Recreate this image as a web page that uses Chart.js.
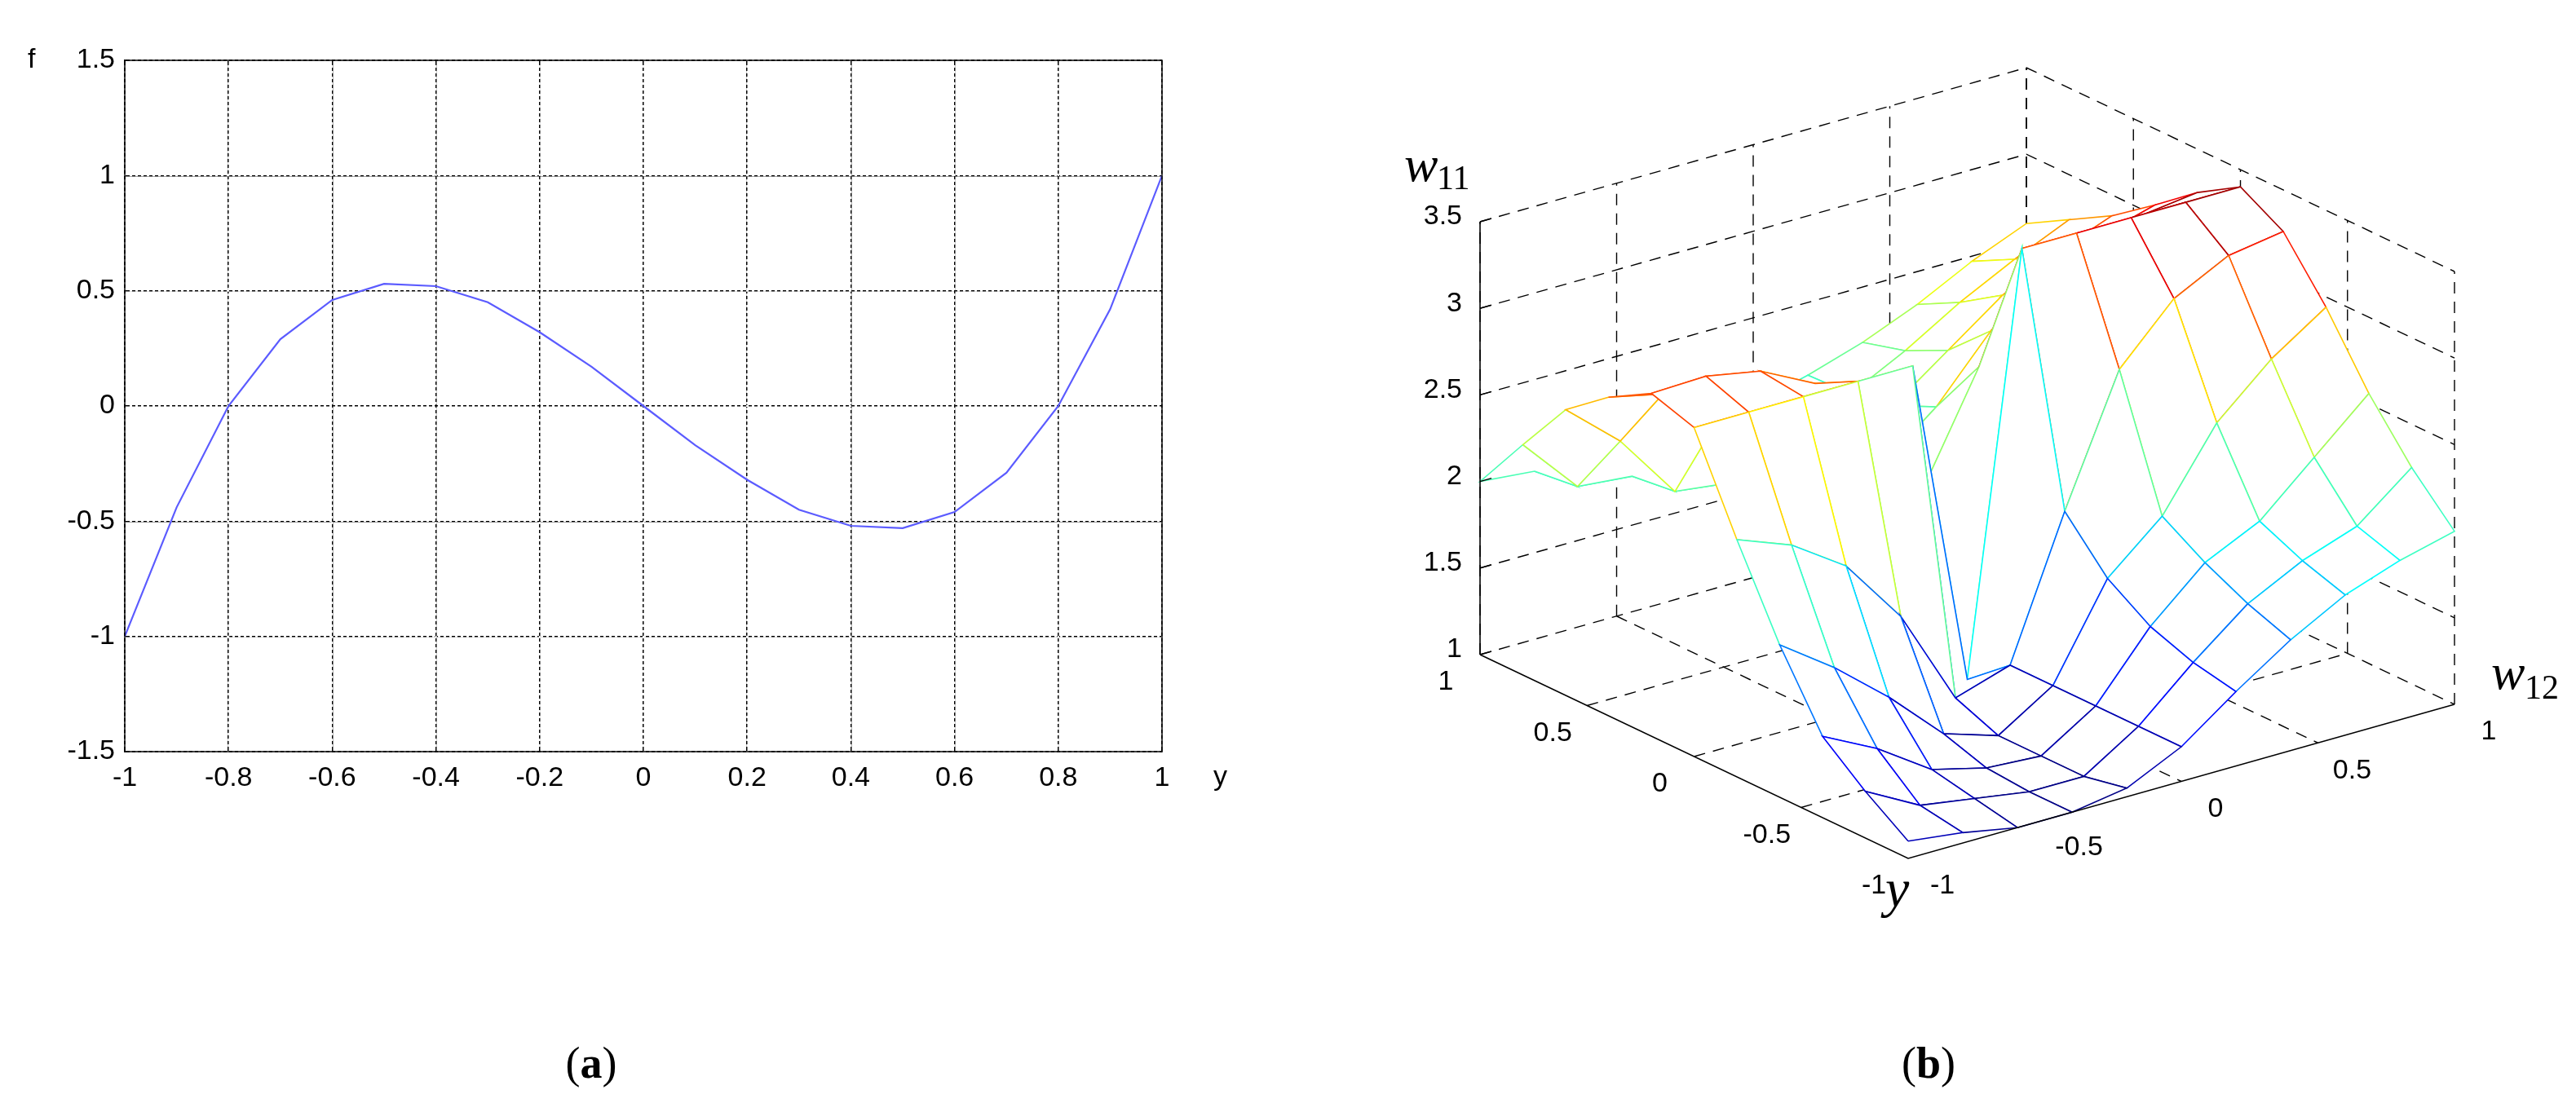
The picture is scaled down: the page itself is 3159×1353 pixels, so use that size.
<!DOCTYPE html>
<html><head><meta charset="utf-8">
<script src="https://cdn.jsdelivr.net/npm/chart.js@4.4.1/dist/chart.umd.min.js"></script>
<style>
html,body{margin:0;padding:0;background:#fff;width:3159px;height:1353px;overflow:hidden}
canvas{position:absolute;top:0}
#ca{left:0}#cb{left:1600px}
</style></head><body>
<canvas id="ca" width="1560" height="1353"></canvas>
<canvas id="cb" width="1559" height="1353"></canvas>
<script>
// ---------- panel (a) data ----------
const aX = [-1,-0.9,-0.8,-0.7,-0.6,-0.5,-0.4,-0.3,-0.2,-0.1,0,0.1,0.2,0.3,0.4,0.5,0.6,0.7,0.8,0.9,1];
const aF = [-1,-0.44,0,0.29,0.46,0.53,0.52,0.45,0.32,0.17,0,-0.17,-0.32,-0.45,-0.52,-0.53,-0.46,-0.29,0,0.42,1];
const aXTicks = [-1,-0.8,-0.6,-0.4,-0.2,0,0.2,0.4,0.6,0.8,1];
const aYTicks = [-1.5,-1,-0.5,0,0.5,1,1.5];
// ---------- panel (b) data ----------
const bY = [-1,-0.8,-0.6,-0.4,-0.2,0,0.2,0.4,0.6,0.8,1];     // rows
const bW12 = [-1,-0.8,-0.6,-0.4,-0.2,0,0.2,0.4,0.6,0.8,1];   // columns
const bW11 = [
 [1.1,1.06,1.0,1.0,1.05,1.2,1.43,1.64,1.81,1.92,2.0],
 [1.27,1.1,1.05,1.0,1.0,1.2,1.48,1.73,1.89,2.0,2.25],
 [1.47,1.31,1.1,1.02,1.0,1.2,1.57,1.85,2.0,2.28,2.56],
 [1.88,1.66,1.4,1.1,1.0,1.2,1.73,2.0,2.45,2.73,2.94],
 [2.37,2.25,2.04,1.66,1.1,1.2,2.0,2.73,3.05,3.21,3.26],
 [2.9,2.9,2.9,2.9,2.9,1.0,3.4,3.4,3.4,3.4,3.4],
 [2.98,2.99,2.93,2.77,2.0,2.0,2.6,2.97,3.13,3.21,3.25],
 [2.84,2.77,2.53,2.0,1.95,2.0,2.25,2.6,2.83,2.97,3.06],
 [2.65,2.38,2.0,1.96,1.95,2.0,2.14,2.37,2.6,2.76,2.88],
 [2.33,2.0,1.97,1.95,1.95,2.0,2.09,2.25,2.44,2.6,2.74],
 [2.0,1.97,1.95,1.95,1.96,2.0,2.08,2.18,2.31,2.47,2.6]
];
const bZTicks = [1,1.5,2,2.5,3,3.5];
const bYTicks = [-1,-0.5,0,0.5,1];
const bWTicks = [-1,-0.5,0,0.5,1];

const TF = "'Liberation Sans', Arial, sans-serif";

// ---------- chart (a) ----------
new Chart(document.getElementById('ca'), {
  type:'scatter',
  data:{datasets:[{data:aX.map((x,i)=>({x:x,y:aF[i]})),showLine:true,borderColor:'#5b5bff',borderWidth:2.2,pointRadius:0,tension:0}]},
  options:{
    responsive:false,animation:false,devicePixelRatio:1,
    layout:{padding:{top:74,right:135,left:0,bottom:0}},
    plugins:{legend:{display:false},tooltip:{enabled:false}},
    scales:{
      x:{type:'linear',min:-1,max:1,afterBuildTicks:s=>{s.ticks=aXTicks.map(v=>({value:v}));},
         afterFit:s=>{s.height=1353-74-848;},
         ticks:{color:'#000',font:{family:TF,size:34},padding:12,maxRotation:0,callback:v=>String(+v.toFixed(1))},
         grid:{color:'#000',lineWidth:1.5,drawTicks:false},border:{display:true,color:'#000',width:1.5,dash:[]}},
      y:{type:'linear',min:-1.5,max:1.5,afterBuildTicks:s=>{s.ticks=aYTicks.map(v=>({value:v}));},
         afterFit:s=>{s.width=153;},
         ticks:{color:'#000',font:{family:TF,size:34},padding:12,callback:v=>String(+v.toFixed(1))},
         grid:{color:'#000',lineWidth:1.5,drawTicks:false},border:{display:true,color:'#000',width:1.5}}
    }
  },
  plugins:[{id:'deco',
    beforeDatasetsDraw(c){const ctx=c.ctx,a=c.chartArea;ctx.save();ctx.strokeStyle='#fff';ctx.lineWidth=2;ctx.setLineDash([3,4]);
      // turn solid gridlines dotted by overdraw gaps: redraw dashed in white offset
      ctx.lineDashOffset=3;
      aXTicks.forEach(v=>{const x=c.scales.x.getPixelForValue(v);ctx.beginPath();ctx.moveTo(x,a.top+2);ctx.lineTo(x,a.bottom-2);ctx.stroke();});
      aYTicks.forEach(v=>{const y=c.scales.y.getPixelForValue(v);ctx.beginPath();ctx.moveTo(a.left+2,y);ctx.lineTo(a.right-2,y);ctx.stroke();});
      ctx.restore();},
    afterDraw(c){const ctx=c.ctx,a=c.chartArea;ctx.save();ctx.strokeStyle='#000';ctx.lineWidth=1.5;ctx.setLineDash([]);
      ctx.strokeRect(a.left,a.top,a.right-a.left,a.bottom-a.top);
      ctx.fillStyle='#000';ctx.font='34px '+TF;ctx.textBaseline='middle';ctx.textAlign='left';
      ctx.fillText('f',34,c.scales.y.getPixelForValue(1.5));
      ctx.fillText('y',1488,a.bottom+32);
      ctx.textAlign='center';ctx.textBaseline='alphabetic';
      ctx.font="54px 'Liberation Serif', serif";const w1=ctx.measureText('(').width;
      ctx.font="bold 54px 'Liberation Serif', serif";const w2=ctx.measureText('a').width;
      let x0=725-(w1*2+w2)/2;ctx.textAlign='left';
      ctx.font="54px 'Liberation Serif', serif";ctx.fillText('(',x0,1322);
      ctx.font="bold 54px 'Liberation Serif', serif";ctx.fillText('a',x0+w1,1322);
      ctx.font="54px 'Liberation Serif', serif";ctx.fillText(')',x0+w1+w2,1322);
      ctx.restore();}
  }]
});

// ---------- chart (b) ----------
const FR={x:740,y:1053},LF={x:215,y:803},RT={x:1410,y:864},ZU=212.4;
function P(y,w,z){return {x:FR.x+(y+1)/2*(LF.x-FR.x)+(w+1)/2*(RT.x-FR.x), y:FR.y+(y+1)/2*(LF.y-FR.y)+(w+1)/2*(RT.y-FR.y)-(z-1)*ZU};}
function jet(v){const t=Math.max(0,Math.min(1,(v-1)/2.4));const c=f=>Math.round(255*Math.max(0,Math.min(1,f)));
  return `rgb(${c(1.5-Math.abs(4*t-3))},${c(1.5-Math.abs(4*t-2))},${c(1.5-Math.abs(4*t-1))})`;}
const ds=[];
function seg(pts,opt){ds.push(Object.assign({data:pts,showLine:true,pointRadius:0,tension:0,borderColor:'#000',borderWidth:1.5,fill:false},opt));}
// back walls & floor grid (dashed)
const dash={borderDash:[14,10],borderWidth:1.4,order:5000};
bZTicks.forEach(z=>{seg([P(1,-1,z),P(1,1,z),P(-1,1,z)],dash);});
bWTicks.forEach(w=>{seg([P(1,w,1),P(1,w,3.5)],dash); if(w>-1&&w<1) seg([P(1,w,1),P(-1,w,1)],dash);});
bYTicks.forEach(y=>{seg([P(y,1,1),P(y,1,3.5)],dash); if(y>-1&&y<1) seg([P(y,-1,1),P(y,1,1)],dash);});
// surface quads
for(let i=0;i<bY.length-1;i++)for(let j=0;j<bW12.length-1;j++){
  const zs=[bW11[i][j],bW11[i][j+1],bW11[i+1][j+1],bW11[i+1][j]];
  const avg=(zs[0]+zs[1]+zs[2]+zs[3])/4;
  const pts=[P(bY[i],bW12[j],zs[0]),P(bY[i],bW12[j+1],zs[1]),P(bY[i+1],bW12[j+1],zs[2]),P(bY[i+1],bW12[j],zs[3]),P(bY[i],bW12[j],zs[0])];
  const depth=(bY[i]+bY[i+1]+bW12[j]+bW12[j+1])/4;
  seg(pts,{borderColor:jet(avg),backgroundColor:'#fff',fill:'shape',borderWidth:1.6,order:Math.round(1000+depth*400)});
}
// solid axes
const solid={borderWidth:1.6,order:-10};
seg([P(1,-1,1),P(1,-1,3.5)],solid);
seg([P(1,-1,1),P(-1,-1,1),P(-1,1,1)],solid);

new Chart(document.getElementById('cb'), {
  type:'scatter',data:{datasets:ds},
  options:{responsive:false,animation:false,devicePixelRatio:1,layout:{padding:0},
    plugins:{legend:{display:false},tooltip:{enabled:false}},
    scales:{x:{type:'linear',min:0,max:1559,display:false},y:{type:'linear',min:0,max:1353,reverse:true,display:false}}},
  plugins:[{id:'lab',afterDraw(c){const ctx=c.ctx;ctx.save();ctx.fillStyle='#000';ctx.strokeStyle='#000';ctx.lineWidth=1.5;
    ctx.font='34px '+TF;ctx.textBaseline='middle';
    ctx.textAlign='right';
    bZTicks.forEach(z=>{const p=P(1,-1,z);ctx.fillText(String(z),p.x-22,p.y-6);ctx.beginPath();ctx.moveTo(p.x,p.y);ctx.lineTo(p.x+14,p.y-4);ctx.stroke();});
    ctx.textAlign='center';
    bYTicks.forEach(y=>{const p=P(y,-1,1);ctx.fillText(String(y),p.x-42,p.y+34);});
    bWTicks.forEach(w=>{const p=P(-1,w,1);ctx.fillText(String(w),p.x+42,p.y+34);});
    ctx.textAlign='left';ctx.textBaseline='alphabetic';
    ctx.font="italic 62px 'Liberation Serif', serif";ctx.fillText('w',122,222);
    ctx.font="42px 'Liberation Serif', serif";ctx.fillText('11',162,232);
    ctx.font="italic 62px 'Liberation Serif', serif";ctx.fillText('w',1455,845);
    ctx.font="42px 'Liberation Serif', serif";ctx.fillText('12',1496,857);
    ctx.font="italic 66px 'Liberation Serif', serif";ctx.fillText('y',712,1112);
    ctx.font="54px 'Liberation Serif', serif";const w1=ctx.measureText('(').width;
    ctx.font="bold 54px 'Liberation Serif', serif";const w2=ctx.measureText('b').width;
    let x0=765-(w1*2+w2)/2;
    ctx.font="54px 'Liberation Serif', serif";ctx.fillText('(',x0,1322);
    ctx.font="bold 54px 'Liberation Serif', serif";ctx.fillText('b',x0+w1,1322);
    ctx.font="54px 'Liberation Serif', serif";ctx.fillText(')',x0+w1+w2,1322);
    ctx.restore();}}]
});
</script></body></html>
